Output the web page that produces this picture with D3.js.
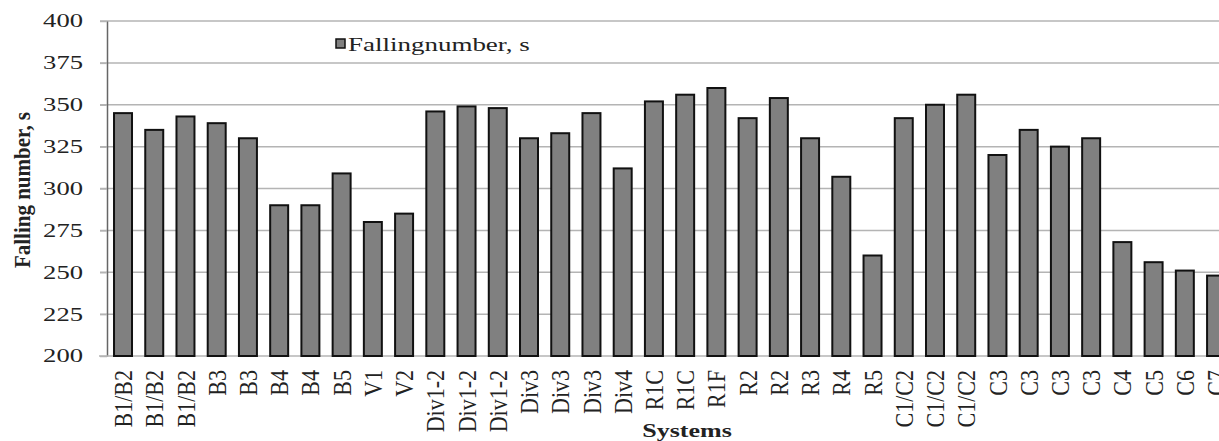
<!DOCTYPE html>
<html>
<head>
<meta charset="utf-8">
<script src="https://cdn.jsdelivr.net/npm/d3@7"></script>
<style>
  html, body { margin: 0; padding: 0; background: #fff; }
  svg { display: block; }
  text { font-family: "Liberation Serif", "Times New Roman", serif; fill: #222; }
</style>
</head>
<body>
<svg id="chart" width="1219" height="441"></svg>
<script>
const categories = ["B1/B2","B1/B2","B1/B2","B3","B3","B4","B4","B5","V1","V2",
  "Div1-2","Div1-2","Div1-2","Div3","Div3","Div3","Div4",
  "R1C","R1C","R1F","R2","R2","R3","R4","R5",
  "C1/C2","C1/C2","C1/C2","C3","C3","C3","C3","C4","C5","C6","C7"];
const fallingNumber = [345,335,343,339,330,290,290,309,280,285,
  346,349,348,330,333,345,312,
  352,356,360,342,354,330,307,260,
  342,350,356,320,335,325,330,268,256,251,248];
const yTicks = [200,225,250,275,300,325,350,375,400];
const seriesName = "Fallingnumber, s";
const yTitle = "Falling number, s";
const xTitle = "Systems";

const svg = d3.select("#chart");
const ids = d3.range(categories.length);

const x = d3.scaleBand().domain(ids).range([107.4, 107.4 + 36 * 31.23])
  .paddingInner(0.36).paddingOuter(0.18);
const y = d3.scaleLinear().domain([200, 400]).range([356, 21]);

// gridlines
svg.append("g").selectAll("line").data(yTicks.filter(d => d > 200)).join("line")
  .attr("x1", 100).attr("x2", 1219)
  .attr("y1", d => y(d)).attr("y2", d => y(d))
  .attr("stroke", "#b4b4b4").attr("stroke-width", 1.5);

// y axis
const yAxis = svg.append("g").attr("transform", "translate(107,0)")
  .call(d3.axisLeft(y).tickValues(yTicks).tickSize(7).tickSizeOuter(0).tickFormat(""));
yAxis.select(".domain").attr("stroke", "#666").attr("stroke-width", 1.5);
yAxis.selectAll(".tick line").attr("stroke", "#b4b4b4").attr("stroke-width", 1.5);

// x axis baseline
const xAxis = svg.append("g").attr("transform", "translate(0,356)")
  .call(d3.axisBottom(x).tickSize(0).tickFormat(""));
xAxis.select(".domain").attr("stroke", "#b4b4b4").attr("stroke-width", 1.5)
  .attr("d", "M99,0H1219");

// y tick labels
svg.append("g").selectAll("text").data(yTicks).join("text")
  .attr("transform", d => `translate(83,${y(d)}) scale(1.4,1)`)
  .attr("dy", "0.34em").attr("text-anchor", "end")
  .style("font-size", "19px").text(d => d);

// bars
svg.append("g").selectAll("rect").data(ids).join("rect")
  .attr("x", i => x(i) + 1).attr("width", x.bandwidth() - 2)
  .attr("y", i => y(fallingNumber[i]))
  .attr("height", i => y(200) - y(fallingNumber[i]))
  .attr("fill", "#808080").attr("stroke", "#111").attr("stroke-width", 2);

// x labels
svg.append("g").selectAll("text").data(ids).join("text")
  .attr("transform", i => `translate(${x(i) + x.bandwidth() / 2},370) scale(1.18,1) rotate(-90)`)
  .attr("dy", "0.35em").attr("text-anchor", "end")
  .style("font-size", "22px").text(i => categories[i]);

// axis titles
svg.append("text")
  .attr("transform", "translate(22,190) scale(1.05,1) rotate(-90)")
  .attr("dy", "0.35em").attr("text-anchor", "middle")
  .style("font-size", "21px").style("font-weight", "bold").text(yTitle);

svg.append("text")
  .attr("transform", "translate(687,437) scale(1.37,1)")
  .attr("text-anchor", "middle")
  .style("font-size", "19px").style("font-weight", "bold").text(xTitle);

// legend
const lg = svg.append("g");
lg.append("rect").attr("x", 336).attr("y", 39).attr("width", 9).attr("height", 9)
  .attr("fill", "#808080").attr("stroke", "#111").attr("stroke-width", 1.5);
lg.append("text").attr("transform", "translate(348,51) scale(1.42,1)")
  .style("font-size", "19px").text(seriesName);
</script>
</body>
</html>
